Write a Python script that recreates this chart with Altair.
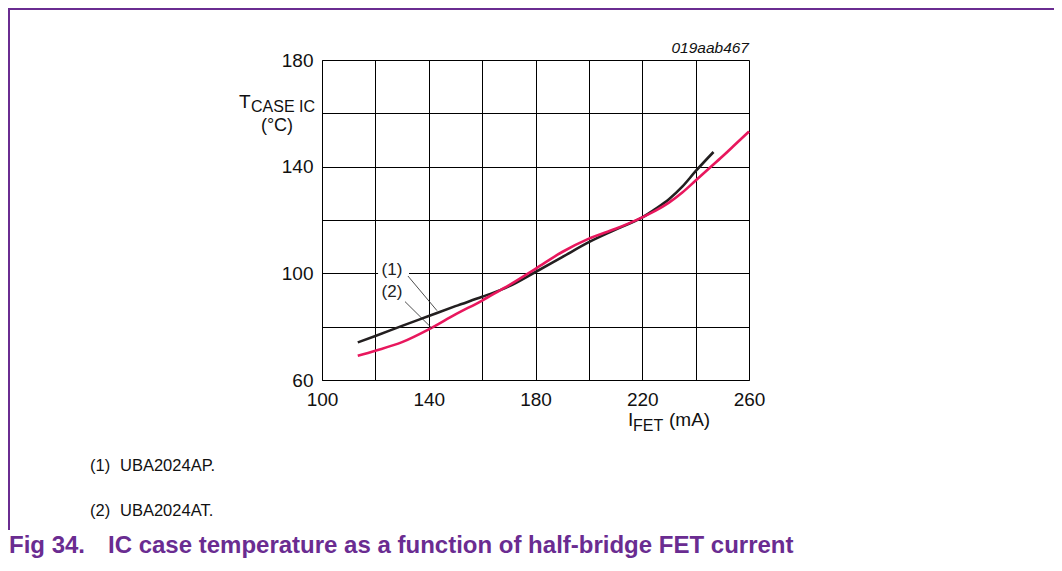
import altair as alt
import pandas as pd

# Curve (1) UBA2024AP
ifet_1 = [113.4, 120, 130, 140, 150, 160, 167, 170, 180, 190, 200, 210, 220, 225, 230, 235, 240, 246.7]
tcase_1 = [74.1, 76.5, 80.3, 84.0, 87.7, 91.2, 93.8, 95.1, 100.5, 106.1, 111.7, 116.4, 121.0, 124.2, 127.8, 132.5, 138.3, 145.5]
# Curve (2) UBA2024AT
ifet_2 = [113.4, 120, 130, 140, 150, 160, 167, 170, 180, 190, 200, 210, 220, 225, 230, 235, 240, 245, 250, 255, 260]
tcase_2 = [69.1, 71.0, 74.2, 79.0, 84.6, 89.8, 93.8, 95.5, 101.7, 108.0, 113.0, 116.7, 121.0, 123.5, 126.5, 130.3, 134.8, 139.3, 143.8, 148.5, 153.2]

x_ticks = [100, 120, 140, 160, 180, 200, 220, 240, 260]
y_ticks = [60, 80, 100, 120, 140, 160, 180]

FONT = "Liberation Sans"
PURPLE = "#6A2C91"
BLACK = "#231F20"
RED = "#E8175D"

df = pd.concat([
    pd.DataFrame({"ifet": ifet_1, "t": tcase_1, "series": "(1)"}),
    pd.DataFrame({"ifet": ifet_2, "t": tcase_2, "series": "(2)"}),
])

xs = alt.Scale(domain=[100, 260], nice=False, zero=False)
ys = alt.Scale(domain=[60, 180], nice=False, zero=False)

base = alt.Chart(df).encode(
    x=alt.X("ifet:Q", scale=xs, axis=alt.Axis(
        values=x_ticks, title=None, grid=True, gridColor="#000", gridOpacity=1, gridWidth=1,
        ticks=False, tickSize=0, labelPadding=10, labelFont=FONT, labelFontSize=19,
        labelColor="#111", domainColor="#000", domainWidth=1, labelFlush=False,
        labelExpr="(datum.value - 100) % 40 == 0 ? datum.label : ''")),
    y=alt.Y("t:Q", scale=ys, axis=alt.Axis(
        values=y_ticks, title=None, grid=True, gridColor="#000", gridOpacity=1, gridWidth=1,
        ticks=False, tickSize=0, labelPadding=9, labelFont=FONT, labelFontSize=19,
        labelColor="#111", domainColor="#000", domainWidth=1, labelFlush=False,
        labelExpr="(datum.value - 60) % 40 == 0 ? datum.label : ''")),
)

lines = base.mark_line(strokeWidth=2.6, interpolate="monotone").encode(
    color=alt.Color("series:N", scale=alt.Scale(domain=["(1)", "(2)"], range=[BLACK, RED]), legend=None),
    detail="series:N",
)

# annotation labels inside plot
ann_lab = ["(1)", "(2)"]
ann_x = [126.2, 126.2]
ann_y = [99.4, 91.3]
ann_df = pd.DataFrame({"lab": ann_lab, "x": ann_x, "y": ann_y})

box_df = pd.DataFrame({"x": [121.0], "x2": [132.6], "y": [97.0], "y2": [104.5]})
box = alt.Chart(box_df).mark_rect(color="white").encode(
    x=alt.X("x:Q", scale=xs), x2="x2:Q", y=alt.Y("y:Q", scale=ys), y2="y2:Q")

ann = alt.Chart(ann_df).mark_text(font=FONT, fontSize=17, baseline="alphabetic", color="#222").encode(
    x=alt.X("x:Q", scale=xs), y=alt.Y("y:Q", scale=ys), text="lab:N")

lead_x1 = [132.2, 131.1]
lead_y1 = [99.0, 89.4]
lead_x2 = [143.1, 141.2]
lead_y2 = [86.0, 79.4]
lead_df = pd.DataFrame({"x": lead_x1, "y": lead_y1, "x2": lead_x2, "y2": lead_y2})
leads = alt.Chart(lead_df).mark_rule(color="#222", strokeWidth=0.8).encode(
    x=alt.X("x:Q", scale=xs), y=alt.Y("y:Q", scale=ys), x2="x2:Q", y2="y2:Q")


def txt(s, x, y, size=17, weight="normal", style="normal", color="#111", align="left", baseline="alphabetic"):
    return alt.Chart(pd.DataFrame({"s": [s]})).mark_text(
        font=FONT, fontSize=size, fontWeight=weight, fontStyle=style, color=color,
        align=align, baseline=baseline).encode(
        x=alt.value(x), y=alt.value(y), text="s:N")


texts = [
    txt("019aab467", 427, -7, size=15.5, style="italic", align="right"),
    txt("T", -83, 48, size=19),
    txt("CASE IC", -71, 52, size=16),
    txt("(°C)", -45, 71, size=18, align="center"),
    txt("I", 306, 366, size=19),
    txt("FET", 311, 371, size=16),
    txt("(mA)", 347, 366, size=19),
    txt("(1)", -232, 411, size=16.5),
    txt("UBA2024AP.", -202, 411, size=16.5),
    txt("(2)", -232, 456, size=16.5),
    txt("UBA2024AT.", -202, 456, size=16.5),
    txt("Fig 34.", -313, 493, size=24, weight="bold", color=PURPLE),
    txt("IC case temperature as a function of half-bridge FET current", -214, 493, size=24, weight="bold", color=PURPLE),
]

frame_top = alt.Chart(pd.DataFrame({"a": [0]})).mark_rule(color=PURPLE, strokeWidth=2).encode(
    x=alt.value(-314), x2=alt.value(740), y=alt.value(-51))
frame_left = alt.Chart(pd.DataFrame({"a": [0]})).mark_rule(color=PURPLE, strokeWidth=2).encode(
    x=alt.value(-313), y=alt.value(-52), y2=alt.value(470))

chart = alt.layer(lines, box, leads, ann, frame_top, frame_left, *texts).properties(
    width=427, height=320,
    padding={"left": 314, "top": 52, "right": 305, "bottom": 178},
    autosize=alt.AutoSizeParams(type="none"),
).configure_view(stroke="#000", strokeWidth=1).configure(background="white")

chart.save("out.html", embed_options={"renderer": "svg", "actions": False})
